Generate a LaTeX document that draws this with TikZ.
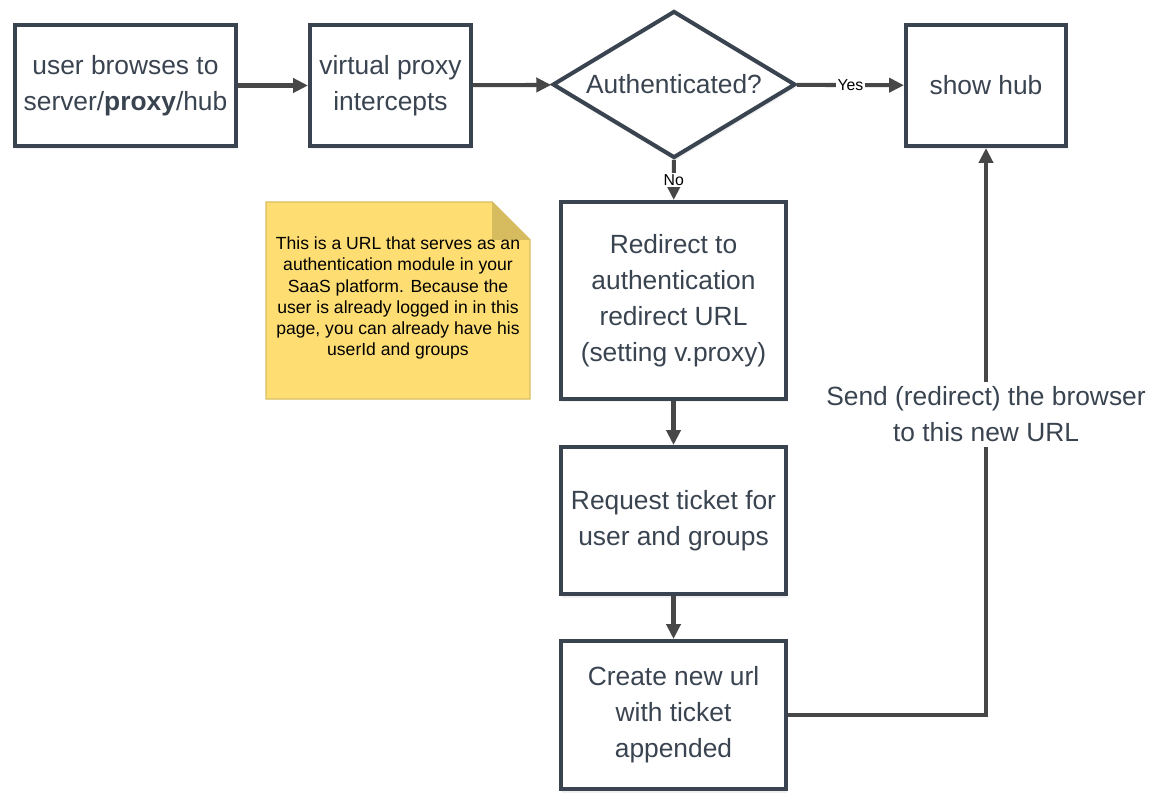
\documentclass[tikz,border=0pt]{standalone}
\usepackage{fontspec}
\setmainfont{Liberation Sans}
\usetikzlibrary{shapes.geometric,arrows.meta,shadows}

\definecolor{boxline}{HTML}{3A4450}
\definecolor{flowline}{HTML}{474747}
\definecolor{notefill}{HTML}{FEDD73}
\definecolor{noteline}{HTML}{D9BF63}
\definecolor{notefold}{HTML}{D6BC5E}

\begin{document}
\begin{tikzpicture}[x=0.02cm, y=-0.02cm,
    stepbox/.style={draw=boxline, line width=2.3pt, fill=white, align=center,
      text=boxline, font=\fontsize{15}{20.5}\selectfont, inner sep=2pt,
      drop shadow={opacity=0.12, shadow xshift=0.5pt, shadow yshift=-2pt}},
    decision/.style={stepbox, diamond, aspect=1.65, inner sep=0pt},
    flow/.style={draw=flowline, line width=2.3pt,
      -{Triangle[length=8.5pt, width=8pt]}},
    answer/.style={fill=white, text=black, font=\fontsize{9}{10}\selectfont, inner sep=1pt}]
  \useasboundingbox (0,0) rectangle (1152,800);

  % top row
  \node[stepbox, minimum width=4.42cm, minimum height=2.42cm] (browse) at (125.5,85.5)
    {user browses to\\server/\textbf{proxy}/hub};
  \node[stepbox, minimum width=3.22cm, minimum height=2.42cm] (intercept) at (390.5,85.5)
    {virtual proxy\\intercepts};
  \node[decision, minimum width=4.86cm, minimum height=2.94cm] (auth) at (674,84.5)
    {Authenticated?};
  \node[stepbox, minimum width=3.2cm, minimum height=2.42cm] (hub) at (986,85.5)
    {show hub};

  % column below the decision
  \node[stepbox, minimum width=4.5cm, minimum height=3.94cm] (redirect) at (673.5,300.5)
    {Redirect to\\authentication\\redirect URL\\(setting v.proxy)};
  \node[stepbox, minimum width=4.5cm, minimum height=2.94cm] (ticket) at (673.5,520.5)
    {Request ticket for\\user and groups};
  \node[stepbox, minimum width=4.5cm, minimum height=2.96cm] (newurl) at (673.5,715)
    {Create new url\\with ticket\\appended};

  % note
  \fill[notefill, draw=noteline, line width=0.8pt]
    (266,202) -- (492,202) -- (530,240) -- (530,399) -- (266,399) -- cycle;
  \fill[notefold] (492,202) -- (530,240) -- (492,240) -- cycle;
  \node[align=center, text=black, font=\fontsize{10}{12}\selectfont] (note) at (398,298)
    {This is a URL that serves as an\\authentication module in your\\SaaS platform. Because the\\user is already logged in in this\\page, you can already have his\\userId and groups};

  % connectors
  \draw[flow] (browse) -- (intercept);
  \draw[flow] (intercept) -- (auth);
  \draw[flow] (auth) -- node[answer] {Yes} (hub);
  \draw[flow] (auth) -- node[answer] {No} (redirect);
  \draw[flow] (redirect) -- (ticket);
  \draw[flow] (ticket) -- (newurl);
  \draw[flow] (newurl.east) -| node[pos=0.765, fill=white, text=boxline, align=center,
      font=\fontsize{15}{20.5}\selectfont, inner sep=3pt]
    {Send (redirect) the browser\\to this new URL} (hub.south);
\end{tikzpicture}
\end{document}
